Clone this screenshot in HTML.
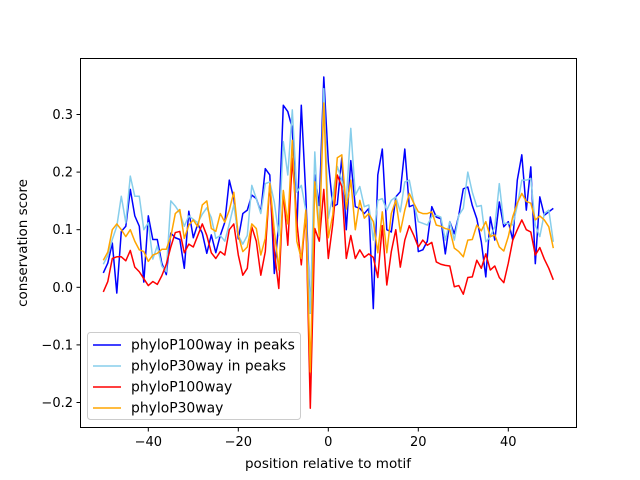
<!DOCTYPE html>
<html><head><meta charset="utf-8"><style>
html,body{margin:0;padding:0;background:#fff;}
svg{display:block;font-family:"DejaVu Sans","Liberation Sans",sans-serif;}
</style></head><body>
<svg id="chart" width="640" height="480" viewBox="0 0 640 480" xmlns="http://www.w3.org/2000/svg">
<rect x="0" y="0" width="640" height="480" fill="#fff"/>
<g id="ticks"></g>
<g id="lines"></g>
<rect x="80.5" y="58.5" width="496" height="369" fill="none" stroke="#000" stroke-width="1"/>
<text x="328" y="468" font-size="13.5" text-anchor="middle">position relative to motif</text>
<text transform="translate(27,243) rotate(-90)" font-size="13.5" text-anchor="middle">conservation score</text>
<g id="legend">
<rect x="87.5" y="332.5" width="213" height="87" rx="3" fill="#fff" fill-opacity="0.8" stroke="#ccc"/>
</g>
</svg>
<script>
const xStart = -50;
const redVals = [-0.008,0.01,0.05,0.053,0.053,0.046,0.064,0.035,0.027,0.015,0.003,0.01,0.005,0.02,0.04,0.07,0.095,0.097,0.06,0.075,0.07,0.09,0.11,0.09,0.06,0.05,
0.062,0.056,0.1,0.11,0.056,0.021,0.033,0.105,0.08,0.021,0.062,0.18,0.062,-0.002,0.166,0.073,0.224,0.114,0.039,0.13,-0.21,0.102,0.08,0.17,
0.05,0.11,0.195,0.175,0.05,0.09,0.05,0.065,0.052,0.058,0.052,0.017,0.107,0.004,0.062,0.1,0.035,0.082,0.107,0.09,0.07,0.082,0.073,0.078,
0.044,0.04,0.038,0.037,0.001,0.003,-0.012,0.017,0.018,0.047,0.033,0.058,0.03,0.037,0.017,0.008,0.042,0.082,0.1,0.117,0.1,0.096,0.056,0.069,0.049,0.033,0.013];
const orangeVals = [0.047,0.061,0.1,0.11,0.1,0.088,0.1,0.08,0.065,0.062,0.045,0.056,0.059,0.066,0.066,0.088,0.128,0.135,0.085,0.108,0.117,0.105,0.143,0.15,0.102,0.097,
0.128,0.113,0.134,0.165,0.09,0.062,0.07,0.11,0.102,0.056,0.085,0.18,0.099,0.03,0.168,0.11,0.255,0.08,0.05,0.134,-0.147,0.183,0.088,0.32,
0.086,0.126,0.225,0.23,0.136,0.186,0.1,0.151,0.12,0.128,0.114,0.06,0.131,0.06,0.128,0.151,0.096,0.134,0.163,0.146,0.131,0.128,0.128,0.131,
0.108,0.106,0.102,0.1,0.068,0.062,0.053,0.082,0.083,0.108,0.098,0.114,0.088,0.091,0.07,0.063,0.088,0.123,0.146,0.163,0.149,0.146,0.117,0.124,0.117,0.105,0.068];
const lightBlueVals = [0.04,0.055,0.083,0.106,0.158,0.112,0.193,0.158,0.158,0.1,0.112,0.049,0.072,0.037,0.027,0.15,0.141,0.129,0.106,0.124,0.118,0.112,0.127,0.138,0.121,0.085,
0.09,0.08,0.11,0.143,0.09,0.075,0.09,0.177,0.154,0.128,0.18,0.183,0.148,0.09,0.253,0.195,0.308,0.165,0.177,0.134,-0.045,0.235,0.09,0.345,
0.12,0.16,0.21,0.186,0.151,0.276,0.16,0.175,0.14,0.143,0.082,0.151,0.154,0.134,0.151,0.157,0.131,0.183,0.186,0.146,0.114,0.111,0.108,0.123,
0.125,0.122,0.082,0.114,0.082,0.125,0.137,0.2,0.165,0.14,0.142,0.079,0.088,0.105,0.18,0.111,0.111,0.108,0.142,0.186,0.186,0.189,0.108,0.088,0.128,0.134,0.079];
const blueVals = [0.025,0.042,0.077,-0.01,0.097,0.106,0.17,0.124,0.106,0.009,0.124,0.083,0.083,0.042,0.022,0.094,0.086,0.083,0.033,0.132,0.086,0.11,0.094,0.059,0.091,0.06,
0.09,0.113,0.186,0.154,0.084,0.128,0.134,0.16,0.154,0.131,0.206,0.195,0.024,0.113,0.316,0.305,0.276,0.096,0.316,0.16,-0.045,0.195,0.142,0.365,
0.218,0.14,0.144,0.225,0.1,0.22,0.14,0.137,0.128,0.137,-0.037,0.195,0.24,0.1,0.096,0.157,0.166,0.24,0.14,0.143,0.062,0.065,0.08,0.14,
0.122,0.119,0.058,0.114,0.093,0.125,0.171,0.174,0.142,0.119,0.079,0.018,0.122,0.082,0.148,0.105,0.114,0.082,0.186,0.23,0.134,0.209,0.041,0.157,0.125,0.131,0.137];
const xTicks = [-40,-20,0,20,40];
const yTicks = [-0.2,-0.1,0.0,0.1,0.2,0.3];
const seriesNames = ["phyloP100way in peaks","phyloP30way in peaks","phyloP100way","phyloP30way"];

const NS = "http://www.w3.org/2000/svg";
const sx = v => 328.3 + 4.5 * v;
const sy = v => 287.3 - 576 * v;
const ticksG = document.getElementById('ticks');
const linesG = document.getElementById('lines');
const legendG = document.getElementById('legend');
function mk(tag, attrs, parent){const e=document.createElementNS(NS,tag);for(const k in attrs)e.setAttribute(k,attrs[k]);parent.appendChild(e);return e;}

xTicks.forEach(t=>{
  const x = sx(t);
  const l = mk('line',{x1:x,x2:x,y1:427.5,y2:431.5,stroke:'#000'},ticksG);
  
  
  const tx = mk('text',{x:x,y:446,'font-size':13,'text-anchor':'middle'},ticksG);
  
  
  tx.textContent = t<0 ? '\u2212'+Math.abs(t) : String(t);
});
yTicks.forEach(t=>{
  const y = sy(t);
  const l = mk('line',{x1:76.5,x2:80.5,y1:y,y2:y,stroke:'#000'},ticksG);
  
  
  const tx = mk('text',{x:73,y:y+4.5,'font-size':13,'text-anchor':'end'},ticksG);
  
  
  tx.textContent = (t<0?'\u2212':'')+Math.abs(t).toFixed(1);
});
const series = [[blueVals,'#0000ff'],[lightBlueVals,'#87ceeb'],[redVals,'#ff0000'],[orangeVals,'#ffa500']];
series.forEach((s,i)=>{
  const pts = s[0].map((v,k)=>sx(xStart+k).toFixed(2)+','+sy(v).toFixed(2)).join(' ');
  const pl = mk('polyline',{points:pts,fill:'none',stroke:s[1],'stroke-width':1.5,'stroke-linejoin':'round'},linesG);
  
  
  const y = 345 + i*21;
  const ll = mk('line',{x1:93,x2:121,y1:y,y2:y,stroke:s[1],'stroke-width':1.5},legendG);
  
  
  const lt = mk('text',{x:131,y:y+4.5,'font-size':13.9},legendG);
  
  
  lt.textContent = seriesNames[i];
});
</script>
</body></html>
